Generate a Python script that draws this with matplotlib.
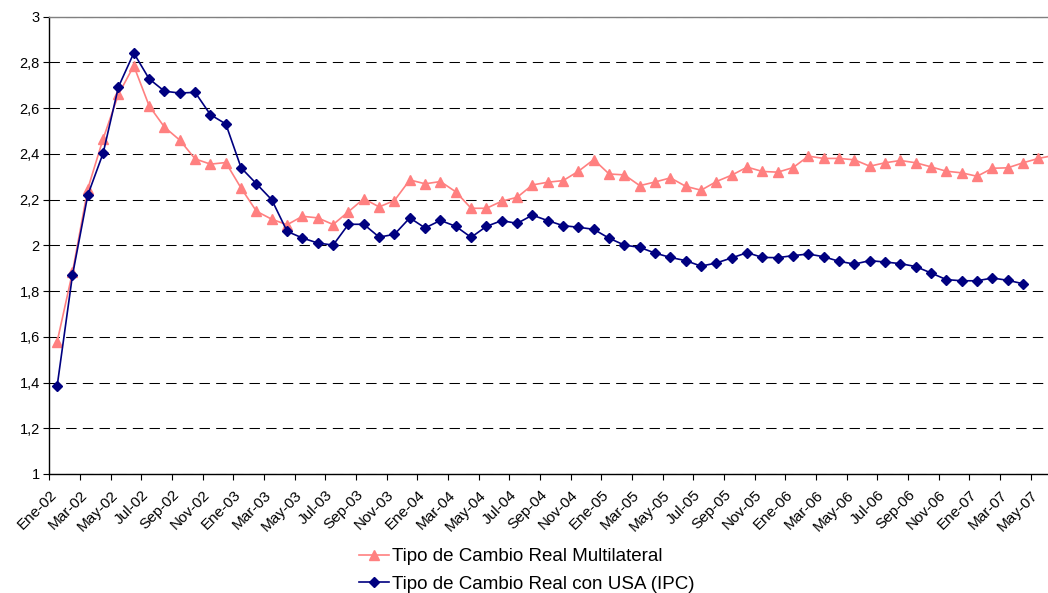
import matplotlib
matplotlib.use("Agg")
import matplotlib.pyplot as plt
import numpy as np

plt.rcParams['font.family'] = ['Liberation Sans', 'DejaVu Sans']

# month labels, Ene-02 .. Jun-07
month_names = ['Ene', 'Feb', 'Mar', 'Abr', 'May', 'Jun',
               'Jul', 'Ago', 'Sep', 'Oct', 'Nov', 'Dic']
years = ['02', '03', '04', '05', '06', '07']
months = [f'{m}-{y}' for y in years for m in month_names][:66]

multilateral = [1.578, 1.882, 2.247, 2.466, 2.660, 2.785, 2.610, 2.517, 2.460, 2.378,
                2.355, 2.362, 2.250, 2.149, 2.114, 2.090, 2.127, 2.120, 2.091, 2.147,
                2.204, 2.168, 2.196, 2.286, 2.269, 2.279, 2.234, 2.162, 2.162, 2.193,
                2.210, 2.264, 2.276, 2.283, 2.324, 2.375, 2.312, 2.308, 2.261, 2.277,
                2.295, 2.258, 2.241, 2.279, 2.307, 2.342, 2.323, 2.320, 2.340, 2.390,
                2.380, 2.380, 2.374, 2.346, 2.361, 2.371, 2.361, 2.343, 2.324, 2.317,
                2.302, 2.337, 2.339, 2.361, 2.380, 2.393]

usa_ipc = [1.384, 1.869, 2.220, 2.403, 2.693, 2.841, 2.728, 2.674, 2.666, 2.669,
           2.571, 2.531, 2.339, 2.269, 2.199, 2.061, 2.032, 2.010, 2.001, 2.092,
           2.092, 2.036, 2.048, 2.120, 2.076, 2.109, 2.083, 2.035, 2.083, 2.108,
           2.096, 2.132, 2.108, 2.086, 2.079, 2.070, 2.031, 2.001, 1.991, 1.966,
           1.947, 1.933, 1.909, 1.923, 1.945, 1.968, 1.947, 1.946, 1.955, 1.962,
           1.950, 1.930, 1.918, 1.933, 1.927, 1.920, 1.907, 1.879, 1.850, 1.845,
           1.845, 1.857, 1.847, 1.832]

yticks = [1, 1.2, 1.4, 1.6, 1.8, 2, 2.2, 2.4, 2.6, 2.8, 3]

fig = plt.figure(figsize=(10.48, 5.93), dpi=100)
ax = fig.add_axes([0.0472, 0.2007, 0.9656, 0.7712])

x_m = np.arange(len(multilateral)) + 0.5
x_u = np.arange(len(usa_ipc)) + 0.5

l1, = ax.plot(x_m, multilateral, color='#FF8080', marker='^', markersize=6.5,
              linewidth=1.2, label='Tipo de Cambio Real Multilateral')
l2, = ax.plot(x_u, usa_ipc, color='#000080', marker='D', markersize=5,
              linewidth=1.2, label='Tipo de Cambio Real con USA (IPC)')

ax.set_xlim(0, 66)
ax.set_ylim(1, 3)
ax.set_yticks(yticks)
ax.set_yticklabels([f'{v:g}'.replace('.', ',') for v in yticks], fontsize=10.5)

tick_pos = np.arange(0, 65, 2)
ax.set_xticks(tick_pos)
ax.set_xticklabels([months[i] for i in tick_pos], rotation=45, ha='right',
                   rotation_mode='anchor', fontsize=11)

ax.tick_params(axis='both', direction='out', length=4, width=0.8, color='black')
ax.tick_params(axis='x', pad=6)
ax.tick_params(axis='y', pad=3)

ax.set_axisbelow(True)
ax.yaxis.grid(True, color='black', linestyle=(0, (10, 6)), linewidth=0.75)

for side in ['left', 'bottom']:
    ax.spines[side].set_color('black')
    ax.spines[side].set_linewidth(1.0)
ax.spines['top'].set_color('#808080')
ax.spines['top'].set_linewidth(1.0)
ax.spines['right'].set_visible(False)

fig.legend(handles=[l1, l2], loc='upper left', bbox_to_anchor=(0.335, 0.088),
           frameon=False, fontsize=13.5, handlelength=1.6, handletextpad=0.2,
           labelspacing=0.55, borderaxespad=0)

fig.savefig('out.png', dpi=100)
